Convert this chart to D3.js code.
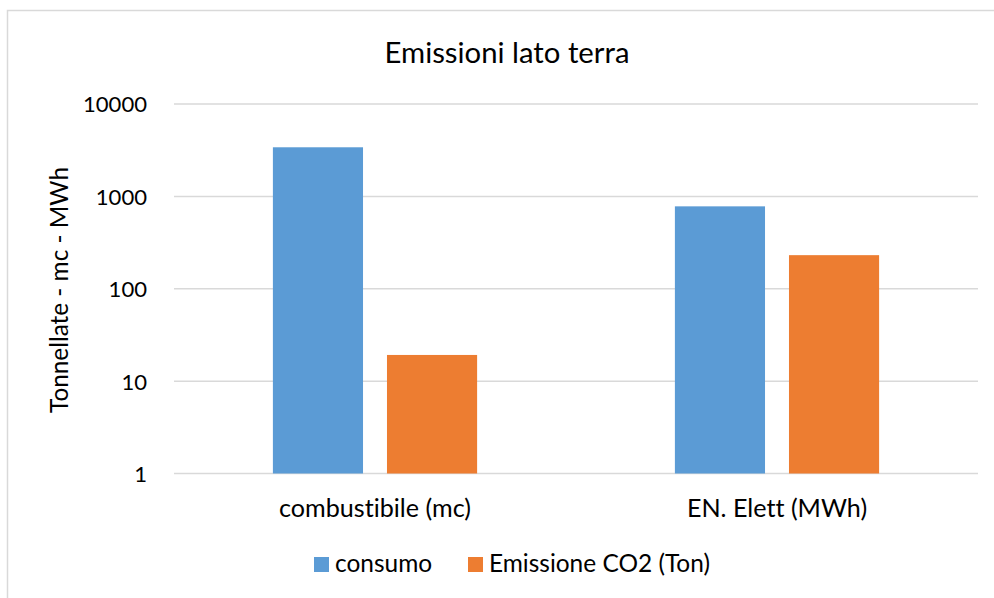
<!DOCTYPE html>
<html>
<head>
<meta charset="utf-8">
<script src="https://cdn.jsdelivr.net/npm/d3@7"></script>
<style>
  html, body { margin: 0; padding: 0; background: #fff; }
  svg { display: block; }
  text { font-family: Lato, "Open Sans", sans-serif; fill: #000; font-variant-ligatures: none; font-feature-settings: "liga" 0, "clig" 0; }
</style>
</head>
<body>
<svg id="chart" width="994" height="598"></svg>
<script>
const categories = ["combustibile (mc)", "EN. Elett (MWh)"];
const seriesNames = ["consumo", "Emissione CO2 (Ton)"];
const consumo = [3400, 780];
const emissioneCO2 = [19.2, 231];
const yTicks = [1, 10, 100, 1000, 10000];
const colors = ["#5b9bd5", "#ed7d31"];
const title = "Emissioni lato terra";
const yTitle = "Tonnellate - mc - MWh";

const FONT = "Lato, 'Open Sans', sans-serif";
const svg = d3.select("#chart");
const W = 994, H = 598;
svg.append("rect").attr("x", 0).attr("y", 0).attr("width", W).attr("height", H).attr("fill", "#fff");
// outer chart border (partially visible)
svg.append("rect").attr("x", 7.5).attr("y", 10.5).attr("width", W + 20).attr("height", H + 20)
  .attr("fill", "none").attr("stroke", "#d9d9d9").attr("stroke-width", 1.5);

// scale a text's font size so that its rendered width matches a target width
function fitWidth(sel, target) {
  sel.each(function () {
    const base = 20;
    d3.select(this).style("font-size", base + "px");
    const w = this.getComputedTextLength();
    d3.select(this).style("font-size", (base * target / w).toFixed(2) + "px");
  });
}
function fitSize(sel, textWidth, sampleNode) {
  const base = 20;
  d3.select(sampleNode).style("font-size", base + "px");
  const w = sampleNode.getComputedTextLength();
  const size = (base * textWidth / w).toFixed(2) + "px";
  sel.style("font-size", size);
}

const plot = { left: 174, right: 978, top: 104, bottom: 473.5 };

const y = d3.scaleLog().domain([1, 10000]).range([plot.bottom, plot.top]);
const x0 = d3.scaleBand().domain(categories).range([plot.left, plot.right]).paddingInner(0).paddingOuter(0);
const bw = x0.bandwidth();
const x1 = d3.scaleBand().domain(seriesNames)
  .range([bw * 0.246, bw * 0.754]).paddingInner(0.21).paddingOuter(0);

// gridlines
svg.append("g").selectAll("line").data(yTicks).join("line")
  .attr("x1", plot.left).attr("x2", plot.right)
  .attr("y1", d => y(d)).attr("y2", d => y(d))
  .attr("stroke", "#d9d9d9").attr("stroke-width", 1.5);

// bars
const data = categories.map((c, i) => ({ cat: c, vals: [consumo[i], emissioneCO2[i]] }));
const groups = svg.append("g").selectAll("g").data(data).join("g")
  .attr("transform", d => `translate(${x0(d.cat)},0)`);
groups.selectAll("rect").data(d => d.vals.map((v, j) => ({ v, s: seriesNames[j], j })))
  .join("rect")
  .attr("x", d => x1(d.s))
  .attr("width", x1.bandwidth())
  .attr("y", d => y(d.v))
  .attr("height", d => y(1) - y(d.v))
  .attr("fill", d => colors[d.j]);

// y axis labels
const yAxis = d3.axisLeft(y).tickValues(yTicks).tickFormat(d3.format("d")).tickSize(0).tickPadding(0);
const ya = svg.append("g").attr("transform", `translate(147,0)`).call(yAxis);
ya.select(".domain").remove();
const yTexts = ya.selectAll("text").style("font-family", FONT).attr("fill", "#000").attr("dy", "0.36em");
fitSize(yTexts, 64, yTexts.filter(d => d === 10000).node());

// x axis labels
const xAxis = d3.axisBottom(x0).tickSize(0).tickPadding(0);
const xa = svg.append("g").attr("transform", `translate(0,${plot.bottom + 43})`).call(xAxis);
xa.select(".domain").remove();
const xTexts = xa.selectAll("text").style("font-family", FONT).attr("fill", "#000").attr("dy", "0");
fitSize(xTexts, 192, xTexts.filter(d => d === categories[0]).node());

// title
const t = svg.append("text").attr("x", 507).attr("y", 63).attr("text-anchor", "middle").text(title);
fitWidth(t, 245);

// y title
const yt = svg.append("text").attr("transform", `translate(68,290) rotate(-90)`).attr("text-anchor", "middle").text(yTitle);
fitWidth(yt, 246);

// legend
const legX = [314, 468];
const leg = svg.append("g").selectAll("g").data(seriesNames).join("g")
  .attr("transform", (d, i) => `translate(${legX[i]},557)`);
leg.append("rect").attr("width", 15).attr("height", 15).attr("fill", (d, i) => colors[i]);
const legTexts = leg.append("text").attr("x", 21).attr("y", 14.7).text(d => d);
fitSize(legTexts, 221, legTexts.filter(d => d === seriesNames[1]).node());
</script>
</body>
</html>
